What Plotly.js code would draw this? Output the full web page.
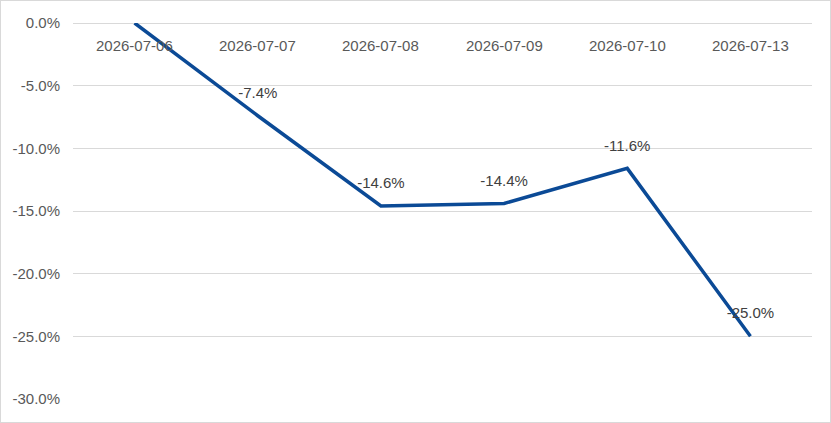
<!DOCTYPE html>
<html>
<head>
<meta charset="utf-8">
<script src="https://cdn.plot.ly/plotly-3.0.1.min.js"></script>
<style>
  html, body { margin: 0; padding: 0; background: #fff; }
  #chart { width: 831px; height: 423px; box-sizing: border-box; border: 1px solid #d9d9d9; }
</style>
</head>
<body>
<div id="chart"></div>
<script>
const dates = ["2026-07-06", "2026-07-07", "2026-07-08", "2026-07-09", "2026-07-10", "2026-07-13"];
const changePct = [0.0, -7.4, -14.6, -14.4, -11.6, -25.0];
const yTickVals = [0, -5, -10, -15, -20, -25, -30];
const yTickLabels = ["0.0%", "-5.0%", "-10.0%", "-15.0%", "-20.0%", "-25.0%", "-30.0%"];

// the first point sits on the top edge, its label falls outside the plot
const labels = changePct.map((v, i) => (i === 0 ? "" : v.toFixed(1) + "%"));

// invisible markers push the value labels up off the line, like the original
var trace = {
  x: dates,
  y: changePct,
  type: "scatter",
  mode: "lines+markers+text",
  text: labels,
  textposition: "top center",
  textfont: { family: "Liberation Sans, Arial, sans-serif", size: 15, color: "#404040" },
  cliponaxis: true,
  marker: { size: 21, color: "rgba(0,0,0,0)" },
  line: { color: "#0B4A96", width: 3.5 },
  hoverinfo: "skip",
};

// category labels sit just under the 0% line
const dateLabels = dates.map((d) => ({
  x: d,
  y: 0,
  xref: "x",
  yref: "y",
  text: d,
  showarrow: false,
  yshift: -22,
  font: { size: 15, color: "#595959" },
}));

var layout = {
  width: 829,
  height: 421,
  margin: { l: 72, r: 18, t: 22, b: 23 },
  paper_bgcolor: "#fff",
  plot_bgcolor: "#fff",
  showlegend: false,
  font: { family: "Liberation Sans, Arial, sans-serif", size: 15, color: "#595959" },
  xaxis: {
    type: "category",
    range: [-0.5, 5.5],
    showticklabels: false,
    ticks: "",
    showgrid: false,
    showline: false,
    zeroline: false,
  },
  yaxis: {
    range: [-30, 0],
    tickvals: yTickVals,
    ticktext: yTickLabels,
    showgrid: true,
    gridcolor: "#d9d9d9",
    gridwidth: 1,
    zeroline: true,
    zerolinecolor: "#d9d9d9",
    zerolinewidth: 1,
    showline: false,
    ticks: "",
    ticklabelstandoff: 12,
    tickfont: { size: 15, color: "#595959" },
  },
  annotations: dateLabels,
};

Plotly.newPlot("chart", [trace], layout, { displayModeBar: false, staticPlot: true });
</script>
</body>
</html>
